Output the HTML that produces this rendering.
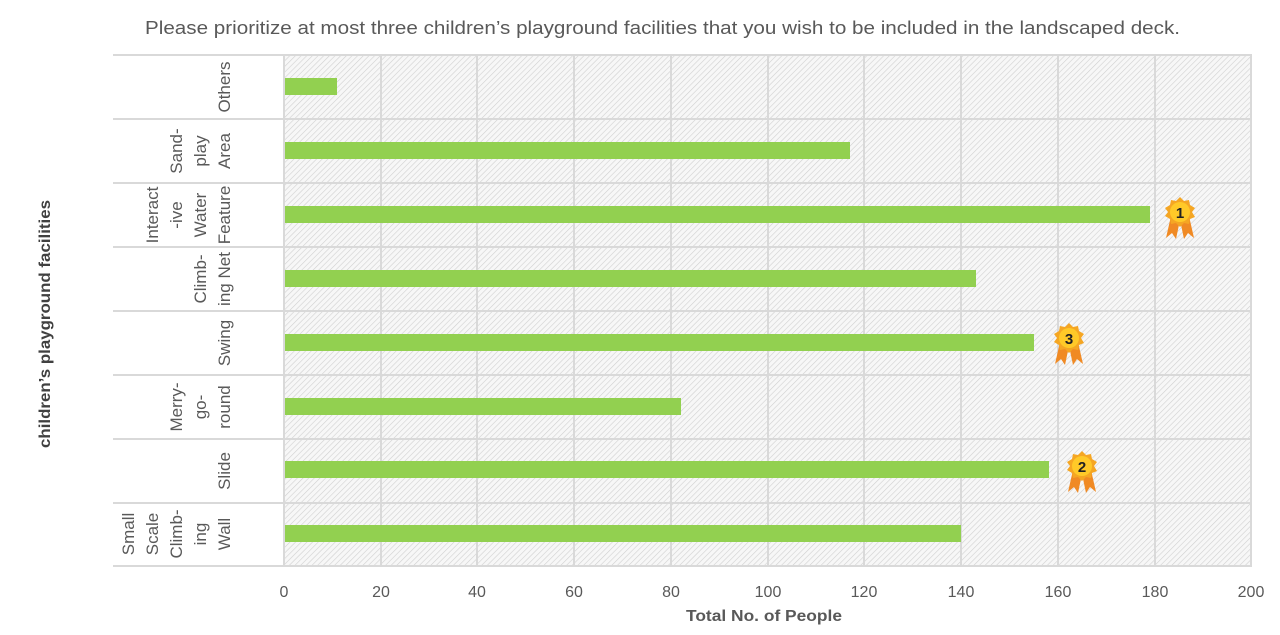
<!DOCTYPE html>
<html><head><meta charset="utf-8"><style>
body{margin:0;background:#fff;}
svg{display:block;font-family:"Liberation Sans",sans-serif;}
</style></head><body>
<svg width="1280" height="635" viewBox="0 0 1280 635">
<defs>
<pattern id="h" width="4" height="4" patternUnits="userSpaceOnUse" patternTransform="rotate(45)">
<rect width="4" height="4" fill="#f7f7f7"/><line x1="0" y1="0" x2="0" y2="4" stroke="#d0d0d0" stroke-width="1.2"/>
</pattern>
<g id="badge">
<path d="M-9,4 L-14,26 L-8,21 L-4,27 L0,8 Z" fill="#f08a24"/>
<path d="M9,4 L14,26 L8,21 L4,27 L0,8 Z" fill="#f08a24"/>
<polygon points="0,-15 4,-11 9,-12 10,-7 15,-4 12,0 15,5 10,7 9,12 4,11 0,15 -4,11 -9,12 -10,7 -15,4 -12,0 -15,-4 -10,-7 -9,-12 -4,-11" fill="#f5a623"/>
<circle r="10" fill="#ffc928"/>
</g>
</defs>
<text x="145" y="34" font-size="18" fill="#595959" textLength="1035" lengthAdjust="spacingAndGlyphs">Please prioritize at most three children’s playground facilities that you wish to be included in the landscaped deck.</text>
<rect x="284" y="55" width="967" height="511" fill="url(#h)"/>
<g stroke="#d9d9d9" stroke-width="2">
<line x1="113" y1="55" x2="1252" y2="55"/><line x1="113" y1="119" x2="1252" y2="119"/><line x1="113" y1="183" x2="1252" y2="183"/><line x1="113" y1="247" x2="1252" y2="247"/><line x1="113" y1="311" x2="1252" y2="311"/><line x1="113" y1="375" x2="1252" y2="375"/><line x1="113" y1="439" x2="1252" y2="439"/><line x1="113" y1="503" x2="1252" y2="503"/><line x1="113" y1="566" x2="1252" y2="566"/>
<line x1="284" y1="55" x2="284" y2="566"/>
<line x1="381" y1="55" x2="381" y2="566"/><line x1="477" y1="55" x2="477" y2="566"/><line x1="574" y1="55" x2="574" y2="566"/><line x1="671" y1="55" x2="671" y2="566"/><line x1="768" y1="55" x2="768" y2="566"/><line x1="864" y1="55" x2="864" y2="566"/><line x1="961" y1="55" x2="961" y2="566"/><line x1="1058" y1="55" x2="1058" y2="566"/><line x1="1155" y1="55" x2="1155" y2="566"/><line x1="1251" y1="55" x2="1251" y2="566"/>
</g>
<g fill="#92d050">
<rect x="285" y="78" width="52" height="17"/>
<rect x="285" y="142" width="565" height="17"/>
<rect x="285" y="206" width="865" height="17"/>
<rect x="285" y="270" width="691" height="17"/>
<rect x="285" y="334" width="749" height="17"/>
<rect x="285" y="398" width="396" height="17"/>
<rect x="285" y="461" width="764" height="17"/>
<rect x="285" y="525" width="676" height="17"/>
</g>
<g font-size="17" fill="#595959" text-anchor="middle">
<text transform="translate(230,87) rotate(-90)">Others</text>
<text transform="translate(182,151) rotate(-90)">Sand-</text><text transform="translate(206,151) rotate(-90)">play</text><text transform="translate(230,151) rotate(-90)">Area</text>
<text transform="translate(158,215) rotate(-90)">Interact</text><text transform="translate(182,215) rotate(-90)">-ive</text><text transform="translate(206,215) rotate(-90)">Water</text><text transform="translate(230,215) rotate(-90)">Feature</text>
<text transform="translate(206,279) rotate(-90)">Climb-</text><text transform="translate(230,279) rotate(-90)">ing Net</text>
<text transform="translate(230,343) rotate(-90)">Swing</text>
<text transform="translate(182,407) rotate(-90)">Merry-</text><text transform="translate(206,407) rotate(-90)">go-</text><text transform="translate(230,407) rotate(-90)">round</text>
<text transform="translate(230,471) rotate(-90)">Slide</text>
<text transform="translate(134,534) rotate(-90)">Small</text><text transform="translate(158,534) rotate(-90)">Scale</text><text transform="translate(182,534) rotate(-90)">Climb-</text><text transform="translate(206,534) rotate(-90)">ing</text><text transform="translate(230,534) rotate(-90)">Wall</text>
</g>
<g font-size="16" fill="#595959" text-anchor="middle">
<text x="284" y="597">0</text><text x="381" y="597">20</text><text x="477" y="597">40</text><text x="574" y="597">60</text><text x="671" y="597">80</text><text x="768" y="597">100</text><text x="864" y="597">120</text><text x="961" y="597">140</text><text x="1058" y="597">160</text><text x="1155" y="597">180</text><text x="1251" y="597">200</text>
</g>
<text x="764" y="621" font-size="16" font-weight="bold" fill="#595959" text-anchor="middle" textLength="156" lengthAdjust="spacingAndGlyphs">Total No. of People</text>
<text transform="translate(50,324) rotate(-90)" font-size="16" font-weight="bold" fill="#404040" text-anchor="middle" textLength="248" lengthAdjust="spacingAndGlyphs">children’s playground facilities</text>
<use href="#badge" x="1180" y="212"/><text x="1180" y="218" font-size="15" font-weight="bold" text-anchor="middle" fill="#222">1</text>
<use href="#badge" x="1069" y="338"/><text x="1069" y="344" font-size="15" font-weight="bold" text-anchor="middle" fill="#222">3</text>
<use href="#badge" x="1082" y="466"/><text x="1082" y="472" font-size="15" font-weight="bold" text-anchor="middle" fill="#222">2</text>
</svg>
</body></html>
